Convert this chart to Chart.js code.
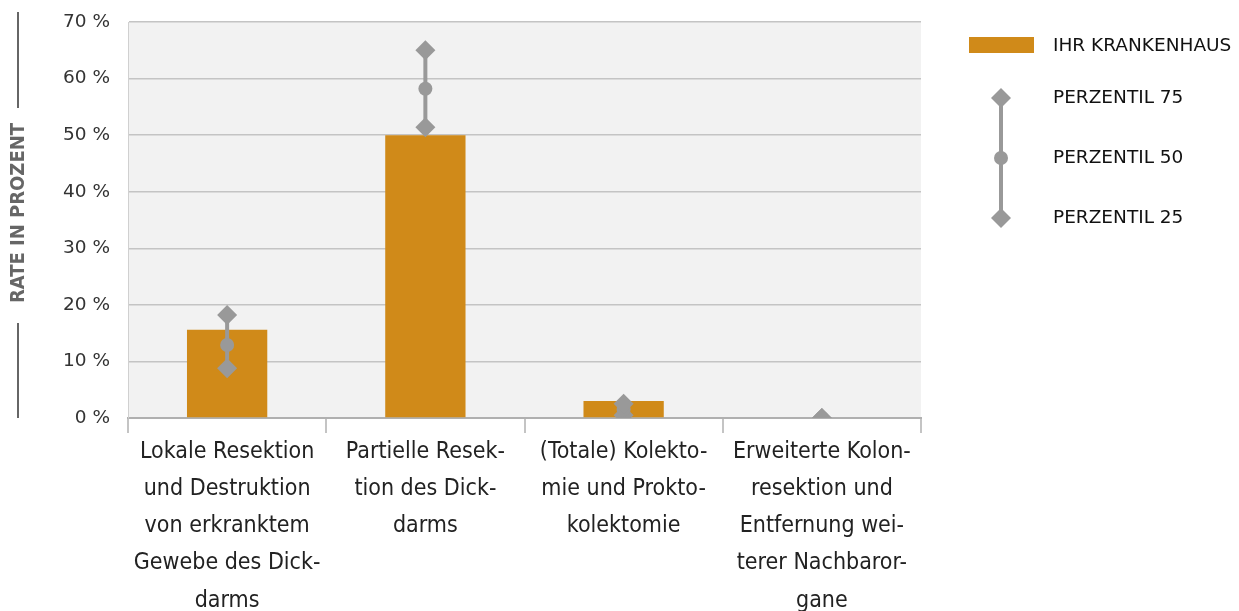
<!DOCTYPE html>
<html>
<head>
<meta charset="utf-8">
<script src="https://cdn.jsdelivr.net/npm/chart.js@4.4.1/dist/chart.umd.min.js"></script>
<style>
  html, body { margin: 0; padding: 0; background: #fff; }
  #wrap { width: 1239px; height: 611px; position: relative; }
</style>
</head>
<body>
<div id="wrap"><canvas id="chart"></canvas></div>
<script>
// Data
const categories = [
  ['Lokale Resektion', 'und Destruktion', 'von erkranktem', 'Gewebe des Dick-', 'darms'],
  ['Partielle Resek-', 'tion des Dick-', 'darms'],
  ['(Totale) Kolekto-', 'mie und Prokto-', 'kolektomie'],
  ['Erweiterte Kolon-', 'resektion und', 'Entfernung wei-', 'terer Nachbaror-', 'gane']
];
const hospitalRate = [15.6, 50.0, 3.0, 0];
const perzentil75 = [18.2, 65.0, 2.5, 0];
const perzentil50 = [12.9, 58.2, 1.5, 0];
const perzentil25 = [8.8, 51.4, 0.5, 0];
const yTicks = [0, 10, 20, 30, 40, 50, 60, 70];

const BAR_COLOR = '#D08A19';
const MARK_COLOR = '#999999';
const GRID_COLOR = '#c4c4c4';

// plot background
const plotBackground = {
  id: 'plotBackground',
  beforeDraw(chart) {
    const { ctx, chartArea: a } = chart;
    ctx.save();
    ctx.fillStyle = '#f2f2f2';
    ctx.fillRect(a.left, a.top, a.right - a.left, a.bottom - a.top);
    ctx.restore();
  }
};

// vertical connector between percentile 25 and 75
const percentileLines = {
  id: 'percentileLines',
  afterDatasetDraw(chart, args) {
    if (args.index !== 0) return;
    const { ctx, chartArea: a } = chart;
    const x = chart.scales.x, y = chart.scales.y;
    ctx.save();
    ctx.beginPath();
    ctx.rect(a.left, a.top, a.right - a.left, a.bottom - a.top);
    ctx.clip();
    ctx.strokeStyle = MARK_COLOR;
    ctx.lineWidth = 4;
    perzentil75.forEach((v, i) => {
      const px = x.getPixelForValue(i);
      ctx.beginPath();
      ctx.moveTo(px, y.getPixelForValue(v));
      ctx.lineTo(px, y.getPixelForValue(perzentil25[i]));
      ctx.stroke();
    });
    ctx.restore();
  }
};

// axis title with lines, and the legend on the right
const decorations = {
  id: 'decorations',
  afterDraw(chart) {
    const ctx = chart.ctx;
    ctx.save();
    // y title
    ctx.strokeStyle = '#666';
    ctx.lineWidth = 2;
    ctx.beginPath();
    ctx.moveTo(18, 12); ctx.lineTo(18, 108);
    ctx.moveTo(18, 323); ctx.lineTo(18, 418);
    ctx.stroke();
    ctx.translate(19, 213);
    ctx.rotate(-Math.PI / 2);
    ctx.fillStyle = '#666';
    ctx.font = 'bold 20px "Liberation Sans Narrow", "DejaVu Sans Condensed", sans-serif';
    ctx.textAlign = 'center';
    ctx.textBaseline = 'middle';
    ctx.fillText('RATE IN PROZENT', 0, 0);
    ctx.restore();

    // legend
    ctx.save();
    ctx.fillStyle = BAR_COLOR;
    ctx.fillRect(969, 37, 65, 16);
    ctx.strokeStyle = MARK_COLOR;
    ctx.fillStyle = MARK_COLOR;
    ctx.lineWidth = 4;
    ctx.beginPath();
    ctx.moveTo(1001, 98); ctx.lineTo(1001, 218);
    ctx.stroke();
    [98, 218].forEach(cy => {
      ctx.beginPath();
      ctx.moveTo(1001, cy - 10); ctx.lineTo(1011, cy);
      ctx.lineTo(1001, cy + 10); ctx.lineTo(991, cy);
      ctx.closePath();
      ctx.fill();
    });
    ctx.beginPath();
    ctx.arc(1001, 158, 7, 0, Math.PI * 2);
    ctx.fill();
    ctx.fillStyle = '#111';
    ctx.font = '18.5px "DejaVu Sans", sans-serif';
    ctx.textBaseline = 'middle';
    ctx.fillText('IHR KRANKENHAUS', 1053, 46);
    ctx.fillText('PERZENTIL 75', 1053, 98);
    ctx.fillText('PERZENTIL 50', 1053, 158);
    ctx.fillText('PERZENTIL 25', 1053, 218);
    ctx.restore();
  }
};

const markerSet = (label, data, style, radius) => ({
  type: 'line',
  label: label,
  data: data,
  showLine: false,
  pointStyle: style,
  pointRadius: radius,
  pointHoverRadius: radius,
  pointBackgroundColor: MARK_COLOR,
  pointBorderColor: MARK_COLOR,
  pointBorderWidth: 0,
  clip: 0
});

new Chart(document.getElementById('chart'), {
  type: 'bar',
  data: {
    labels: categories,
    datasets: [
      {
        label: 'IHR KRANKENHAUS',
        data: hospitalRate,
        backgroundColor: BAR_COLOR,
        borderWidth: 0,
        categoryPercentage: 1,
        barPercentage: 0.405,
        order: 2
      },
      Object.assign(markerSet('PERZENTIL 75', perzentil75, 'rectRot', 10), { order: 1 }),
      Object.assign(markerSet('PERZENTIL 50', perzentil50, 'circle', 7), { order: 1 }),
      Object.assign(markerSet('PERZENTIL 25', perzentil25, 'rectRot', 10), { order: 1 })
    ]
  },
  options: {
    responsive: true,
    maintainAspectRatio: false,
    animation: false,
    layout: { padding: { left: 0, right: 318, top: 22, bottom: 0 } },
    plugins: {
      legend: { display: false },
      tooltip: { enabled: false }
    },
    scales: {
      x: {
        offset: true,
        grid: {
          offset: true,
          drawOnChartArea: false,
          color: GRID_COLOR,
          lineWidth: 2,
          tickLength: 15
        },
        border: { color: '#b0b0b0', width: 2 },
        ticks: {
          autoSkip: false,
          maxRotation: 0,
          minRotation: 0,
          padding: 0,
          color: '#222',
          font: { family: '"Liberation Sans Narrow", "DejaVu Sans Condensed", sans-serif', size: 23, lineHeight: 1.62 }
        },
        afterFit(scale) {
          scale.height = 611 - 418;
          scale.paddingLeft = 0;
          scale.paddingRight = 0;
        }
      },
      y: {
        min: 0,
        max: 70,
        afterBuildTicks(scale) { scale.ticks = yTicks.map(v => ({ value: v })); },
        grid: { color: GRID_COLOR, lineWidth: 1.5, drawTicks: false },
        border: { color: '#d0d0d0', width: 1 },
        ticks: {
          padding: 18,
          color: '#333',
          font: { family: '"DejaVu Sans", sans-serif', size: 18.5 },
          callback: v => v + ' %'
        },
        afterFit(scale) {
          scale.width = 128;
          scale.paddingTop = 0;
          scale.paddingBottom = 0;
        }
      }
    }
  },
  plugins: [plotBackground, percentileLines, decorations]
});
</script>
</body>
</html>
